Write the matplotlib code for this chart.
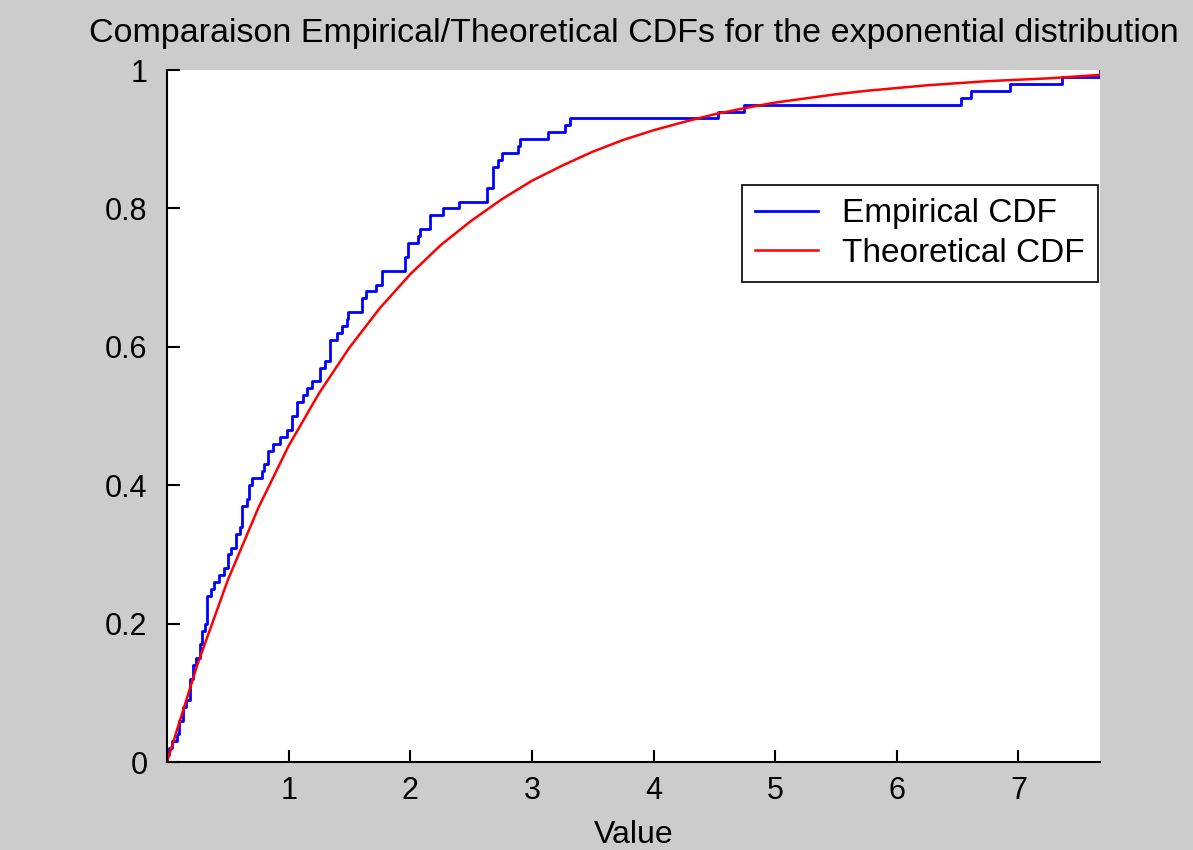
import numpy as np
import matplotlib
matplotlib.use('Agg')
import matplotlib.pyplot as plt

plt.rcParams['font.family'] = ['Liberation Sans', 'DejaVu Sans']

# empirical CDF: value where a step happens, CDF after the step
emp_x = [0.00, 0.02, 0.045, 0.08, 0.10, 0.13, 0.16, 0.185, 0.21, 0.24, 0.27, 0.285,
         0.31, 0.325, 0.365, 0.39, 0.43, 0.47, 0.50, 0.53, 0.57, 0.60, 0.62, 0.655,
         0.67, 0.70, 0.78, 0.80, 0.83, 0.87, 0.93, 0.99, 1.03, 1.07, 1.12, 1.15,
         1.19, 1.26, 1.30, 1.34, 1.40, 1.44, 1.48, 1.49, 1.60, 1.64, 1.72, 1.77,
         1.955, 1.98, 2.06, 2.08, 2.16, 2.27, 2.40, 2.63, 2.68, 2.72, 2.75, 2.885,
         2.90, 3.13, 3.27, 3.31, 4.53, 4.74, 6.53, 6.61, 6.93, 7.36, 7.67]
emp_f = [0.01, 0.02, 0.03, 0.04, 0.06, 0.08, 0.09, 0.12, 0.14, 0.15, 0.17, 0.19,
         0.20, 0.24, 0.25, 0.26, 0.27, 0.28, 0.30, 0.31, 0.33, 0.34, 0.37, 0.38,
         0.40, 0.41, 0.42, 0.43, 0.45, 0.46, 0.47, 0.48, 0.50, 0.52, 0.53, 0.54,
         0.55, 0.57, 0.58, 0.61, 0.62, 0.63, 0.64, 0.65, 0.67, 0.68, 0.69, 0.71,
         0.73, 0.75, 0.76, 0.77, 0.79, 0.80, 0.81, 0.83, 0.86, 0.87, 0.88, 0.89,
         0.90, 0.91, 0.92, 0.93, 0.94, 0.95, 0.96, 0.97, 0.98, 0.99, 1.00]

# theoretical CDF
theo_x = [0, 0.25, 0.5, 0.75, 1.0, 1.25, 1.5, 1.75, 2.0, 2.25, 2.5, 2.75, 3.0, 3.25,
          3.5, 3.75, 4.0, 4.25, 4.5, 4.75, 5.0, 5.25, 5.5, 5.75, 6.0, 6.25, 6.5,
          6.75, 7.0, 7.25, 7.5, 7.67]
theo_f = [0.0, 0.141, 0.263, 0.367, 0.457, 0.533, 0.599, 0.656, 0.705, 0.747, 0.782,
          0.813, 0.840, 0.862, 0.882, 0.899, 0.913, 0.925, 0.936, 0.945, 0.953, 0.959,
          0.965, 0.970, 0.974, 0.978, 0.981, 0.984, 0.986, 0.988, 0.991, 0.993]

fig = plt.figure(figsize=(11.93, 8.5), dpi=100, facecolor='#cccccc')
ax = fig.add_axes([0.140, 0.1035, 0.782, 0.8141])

sx = [emp_x[0]] + emp_x
sf = [0.0] + emp_f
ax.step(sx, sf, where='post', color='blue', lw=2, label='Empirical CDF')
ax.plot(theo_x, theo_f, color='red', lw=1.8, label='Theoretical CDF')

ax.set_xlim(0, 7.67)
ax.set_ylim(0, 1)
ax.set_xticks([1, 2, 3, 4, 5, 6, 7])
ax.set_yticks([0, 0.2, 0.4, 0.6, 0.8, 1])
ax.set_yticklabels(['0', '0.2', '0.4', '0.6', '0.8', '1'])
ax.tick_params(direction='in', length=9, width=1.5, labelsize=22)
ax.tick_params(axis='y', pad=14)
ax.tick_params(axis='x', pad=10)
for s in ['top', 'right']:
    ax.spines[s].set_visible(False)
for s in ['left', 'bottom']:
    ax.spines[s].set_linewidth(1.5)
ax.set_xlabel('Value', fontsize=23, labelpad=10)
ax.set_title('Comparaison Empirical/Theoretical CDFs for the exponential distribution',
             fontsize=24.5, pad=20)

leg = ax.legend(loc='upper left', bbox_to_anchor=(0.616, 0.834), fontsize=24,
                frameon=True, fancybox=False, framealpha=1, edgecolor='black',
                handlelength=1.9, handletextpad=0.7, borderpad=0.4,
                labelspacing=0.25, borderaxespad=0)
leg.get_frame().set_linewidth(1.2)

fig.savefig('out.png', dpi=100, facecolor=fig.get_facecolor())
